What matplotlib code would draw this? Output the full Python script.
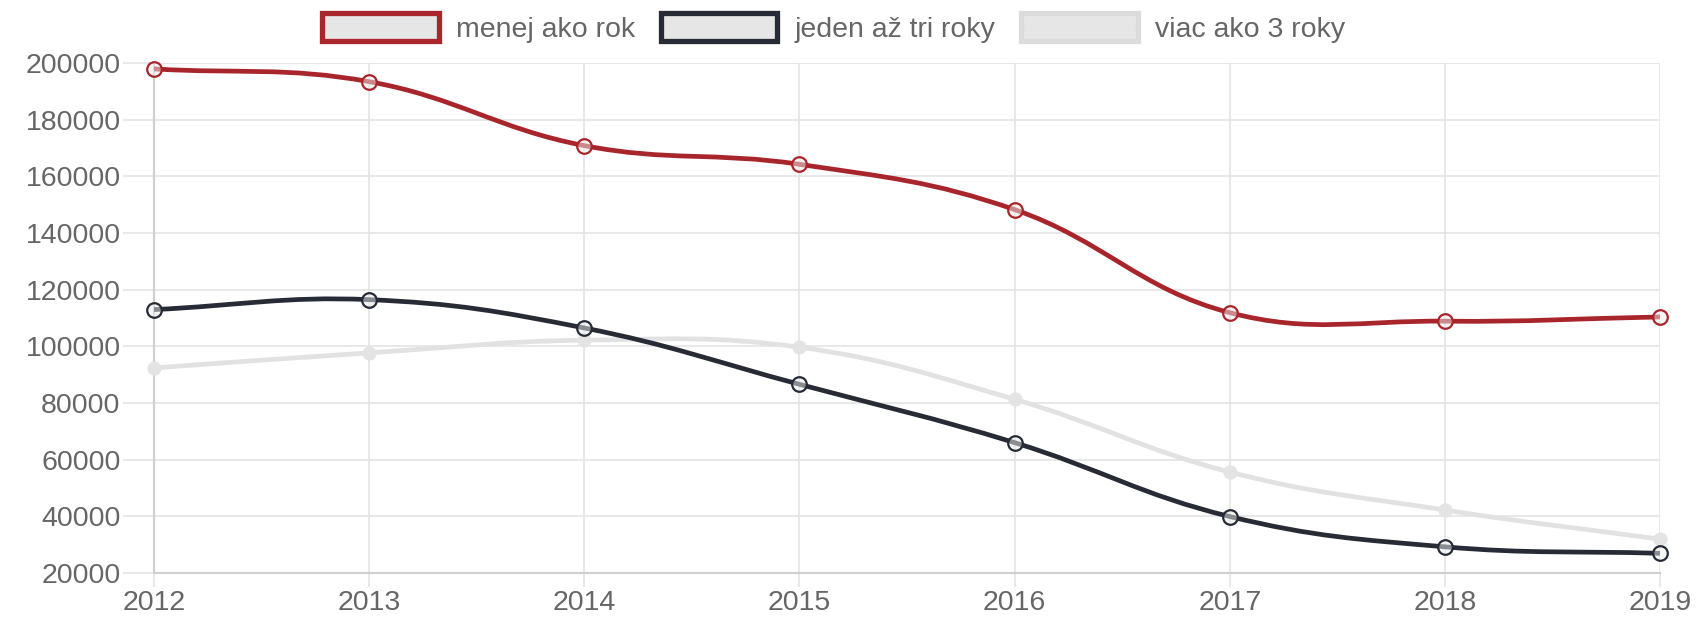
import numpy as np
import matplotlib
matplotlib.use('Agg')
import matplotlib.pyplot as plt
from matplotlib.path import Path
from matplotlib.patches import PathPatch, Patch

years = [2012, 2013, 2014, 2015, 2016, 2017, 2018, 2019]
menej = [198000, 193500, 170900, 164300, 148300, 111900, 108900, 110400]
jeden = [113000, 116500, 106500, 86600, 66000, 39900, 29200, 26900]
viac = [92400, 97700, 102200, 99700, 81300, 55600, 42200, 31900]
labels = ['menej ako rok', 'jeden až tri roky', 'viac ako 3 roky']
colors = ['#a9252c', '#262b36', '#e2e2e2']
yticks = [20000, 40000, 60000, 80000, 100000, 120000, 140000, 160000, 180000, 200000]

plt.rcParams['font.family'] = ['Liberation Sans', 'DejaVu Sans']
TXT = '#666666'
FS = 20.5

fig = plt.figure(figsize=(17.01, 6.2), dpi=100)
ax = fig.add_axes([0.0905, 0.076, 0.8855, 0.822])
ax.set_xlim(years[0], years[-1])
ax.set_ylim(yticks[0], yticks[-1])


def spline_path(ax, xs, ys, t=0.4):
    pts = ax.transData.transform(np.column_stack([xs, ys]).astype(float))
    n = len(pts)
    cps = []
    for i in range(n):
        prev = pts[max(i - 1, 0)]
        cur = pts[i]
        nxt = pts[min(i + 1, n - 1)]
        d01 = np.hypot(*(cur - prev))
        d12 = np.hypot(*(nxt - cur))
        tot = d01 + d12
        s01 = d01 / tot if tot else 0
        s12 = d12 / tot if tot else 0
        cps.append((cur - t * s01 * (nxt - prev), cur + t * s12 * (nxt - prev)))
    verts = [pts[0]]
    codes = [Path.MOVETO]
    for i in range(1, n):
        verts += [cps[i - 1][1], cps[i][0], pts[i]]
        codes += [Path.CURVE4] * 3
    verts = ax.transData.inverted().transform(np.array(verts))
    return Path(verts, codes)


series = [menej, jeden, viac]
zs = [5, 4, 3]
for vals, col, z, i in zip(series, colors, zs, range(3)):
    p = spline_path(ax, years, vals)
    ax.add_patch(PathPatch(p, fill=False, edgecolor=col, lw=3.4, zorder=z,
                           capstyle='round', joinstyle='round'))
    if i < 2:
        ax.plot(years, vals, 'o', ms=10.5, mfc=(0.93, 0.93, 0.93, 0.5), mec=col,
                mew=1.6, zorder=z + 0.5, clip_on=False)
    else:
        ax.plot(years, vals, 'o', ms=9, mfc='#e4e4e4', mec='#e4e4e4',
                mew=1.2, zorder=z + 0.5, clip_on=False)

ax.set_xticks(years)
ax.set_xticklabels([str(y) for y in years])
ax.set_yticks(yticks)
ax.set_yticklabels([str(v) for v in yticks])
ax.grid(True, color='#e4e4e4', lw=1.2, zorder=0)
for s in ['top', 'right']:
    ax.spines[s].set_visible(False)
for s in ['left', 'bottom']:
    ax.spines[s].set_color('#cfcfcf')
    ax.spines[s].set_linewidth(1.5)
ax.tick_params(axis='y', length=22, width=1.2, color='#e4e4e4', pad=2,
               labelsize=FS, labelcolor=TXT)
ax.tick_params(axis='x', length=10, width=1.2, color='#e4e4e4', pad=2,
               labelsize=FS, labelcolor=TXT)

handles = [Patch(facecolor='#e6e6e6', edgecolor=c, linewidth=3.8) for c in colors[:2]]
handles.append(Patch(facecolor='#e6e6e6', edgecolor='#dcdcdc', linewidth=3.8))
fig.legend(handles, labels, loc='center', bbox_to_anchor=(0.49, 0.955), ncol=3,
           frameon=False, fontsize=FS, labelcolor=TXT, handlelength=4.1,
           handleheight=1.15, handletextpad=0.6, columnspacing=0.9)

fig.savefig('out.png', dpi=100)
